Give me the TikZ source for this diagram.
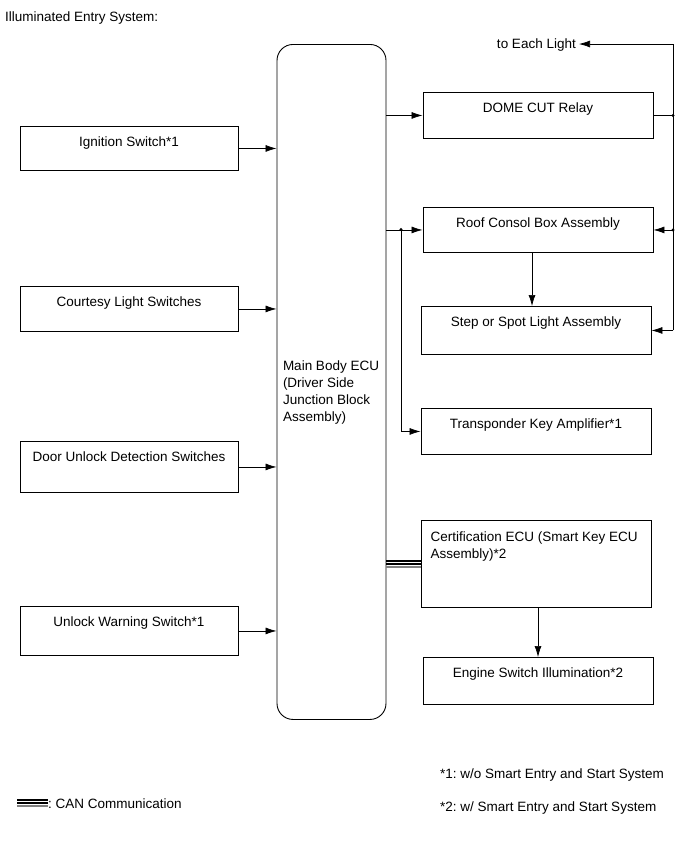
\documentclass[tikz,border=0pt]{standalone}
\usepackage{fontspec}
\setmainfont{Liberation Sans}
\usetikzlibrary{arrows.meta,calc}

\tikzset{
    every node/.style={font=\fontsize{13.5}{17}\selectfont},
    blk/.style={draw,line width=0.9pt,inner ysep=0pt,text height=20pt},
    lblk/.style={blk,minimum width=218pt},
    rblk/.style={blk,minimum width=230pt},
    arr/.style={line width=0.7pt,-{Latex[length=11pt,width=7pt]}},
    wire/.style={line width=0.7pt},
    can/.style={line width=1.2pt,
        preaction={draw,line width=1.2pt,transform canvas={yshift=3pt}},
        postaction={draw=gray,line width=1.4pt,transform canvas={yshift=-3pt}}},
}
\frenchspacing

\begin{document}
\begin{tikzpicture}[x=1pt,y=-1pt]
            \useasboundingbox (0,0) rectangle (690,855);

            \node[anchor=base west,inner sep=0pt] (title) at (5,21) {Illuminated Entry System:};

            % main ecu
            \node[draw,line width=0.9pt,rounded corners=16pt,anchor=north,minimum width=109pt,
                inner sep=0pt,text height=326pt,text depth=349pt] (ecu) at (331.5,44)
                {\parbox[t]{97pt}{\raggedright Main Body ECU\\(Driver Side\\Junction Block\\Assembly)}};

            % inputs
            \foreach \n/\y/\d/\t in {ign/126/24/Ignition Switch*1,
                                     court/286/25/Courtesy Light Switches,
                                     door/441/31/Door Unlock Detection Switches,
                                     warn/606/29/Unlock Warning Switch*1}{
                \node[lblk,anchor=north,text depth=\d pt] (\n) at (129,\y) {\t};
                \draw[arr] (\n.east) -- (\n.east -| ecu.west);
            }

            % outputs
            \node[rblk,anchor=north,text depth=26pt] (dome) at (538,92) {DOME CUT Relay};
            \node[rblk,anchor=north,text depth=25pt] (roof) at (538,207) {Roof Consol Box Assembly};
            \node[rblk,anchor=north,text depth=28pt] (step) at (536,306) {Step or Spot Light Assembly};
            \node[rblk,anchor=north,text depth=26pt] (transp) at (536,408) {Transponder Key Amplifier*1};
            \node[rblk,anchor=north,inner xsep=9pt,text height=21pt,text depth=66pt] (cert) at (536,520)
                {\parbox[t]{211pt}{\raggedright Certification ECU (Smart Key ECU\\Assembly)*2}};
            \node[rblk,anchor=north,text depth=27pt] (eng) at (538,657) {Engine Switch Illumination*2};

            \node[anchor=east,inner sep=3pt] (light) at (579,45) {to Each Light};

            \coordinate (bt) at (673,44);
            \coordinate (j1) at (401,229.5);

            \draw[arr] (ecu.east |- dome.west) -- (dome.west);
            \draw[arr] (ecu.east |- roof.west) -- (roof.west);
            \draw[arr] (j1) |- (transp.west);
            \fill (j1) circle (1.6pt);

            \draw[wire] (dome.east) -- (bt |- dome.east);
            \draw[wire] (bt |- step.east) -- (bt);
            \draw[arr] (bt) -- (bt -| light.east);
            \draw[arr] (bt |- roof.east) -- (roof.east);
            \draw[arr] (bt |- step.east) -- (step.east);
            \fill (bt |- dome.east) circle (1.6pt);
            \fill (bt |- roof.east) circle (1.6pt);

            \draw[arr] ([xshift=-6pt]roof.south) -- ([xshift=-6pt]roof.south |- step.north);
            \draw[arr] ([xshift=2pt]cert.south) -- ([xshift=2pt]cert.south |- eng.north);

            \draw[can] (ecu.east |- cert.west) -- (cert.west);

            % legend
            \coordinate (lg1) at (17,803);
            \coordinate (lg2) at (48,803);
            \draw[can] (lg1) -- (lg2);
            \node[anchor=base west,inner sep=0pt] (lgt) at (48,808) {: CAN Communication};

            \node[anchor=base west,inner sep=0pt] (fn1) at (440,778) {*1: w/o Smart Entry and Start System};
            \node[anchor=base west,inner sep=0pt] (fn2) at (440,811) {*2: w/ Smart Entry and Start System};

        \end{tikzpicture}
\end{document}
